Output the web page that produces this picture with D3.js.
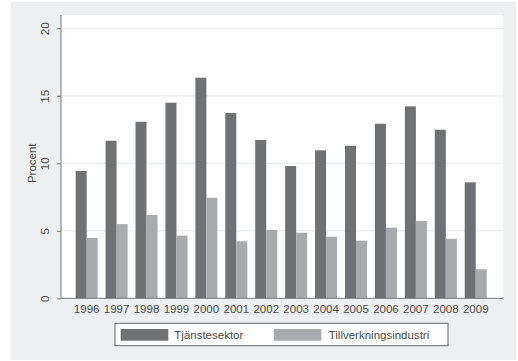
<!DOCTYPE html>
<html>
<head>
<meta charset="utf-8">
<script src="https://cdn.jsdelivr.net/npm/d3@7"></script>
<style>
html,body{margin:0;padding:0;background:#fff;}
svg{display:block;font-family:"Liberation Sans",Arial,sans-serif;}
</style>
</head>
<body>
<script>
const years = ["1996","1997","1998","1999","2000","2001","2002","2003","2004","2005","2006","2007","2008","2009"];
const seriesNames = ["Tjänstesektor","Tillverkningsindustri"];
const tjanst = [9.43,11.67,13.08,14.49,16.34,13.73,11.73,9.8,10.96,11.3,12.93,14.22,12.49,8.59];
const tillv = [4.47,5.5,6.17,4.64,7.45,4.22,5.06,4.86,4.56,4.27,5.23,5.73,4.41,2.15];
const yTicks = [0,5,10,15,20];
const colors = ["#707175","#a9aaae"];

const W = 518, H = 361;
const svg = d3.select("body").append("svg").attr("width", W).attr("height", H);

// graph region
svg.append("rect").attr("x",11).attr("y",2).attr("width",505).attr("height",358).attr("fill","#edeff1");
const plot = {l:61, r:503, t:15, b:298.3};
svg.append("rect").attr("x",plot.l).attr("y",plot.t).attr("width",plot.r-plot.l).attr("height",plot.b-plot.t).attr("fill","#fff");

const y = d3.scaleLinear().domain([0,20]).range([298.3,28.3]);
const x = d3.scaleBand().domain(years).range([71.7,490.7]).paddingInner(0.264).paddingOuter(0.132);
const xs = d3.scaleBand().domain([0,1]).range([0,x.bandwidth()]);

// gridlines
svg.append("g").selectAll("line").data(yTicks.filter(d=>d>0)).join("line")
  .attr("x1",plot.l).attr("x2",plot.r).attr("y1",d=>y(d)).attr("y2",d=>y(d))
  .attr("stroke","#eceef0").attr("stroke-width",1.2);

// bars
const groups = svg.append("g").selectAll("g").data(years).join("g")
  .attr("transform",d=>`translate(${x(d)},0)`);
groups.selectAll("rect").data((d,i)=>[tjanst[i],tillv[i]]).join("rect")
  .attr("x",(d,j)=>xs(j)).attr("width",xs.bandwidth())
  .attr("y",d=>y(d)).attr("height",d=>y(0)-y(d))
  .attr("fill",(d,j)=>colors[j]);

// y axis
const yAxis = svg.append("g").attr("transform",`translate(${plot.l},0)`)
  .call(d3.axisLeft(y).tickValues(yTicks).tickSize(4).tickPadding(4));
yAxis.select(".domain").attr("d",`M0,${plot.t}V${plot.b}`).attr("stroke","#777");
yAxis.selectAll(".tick line").attr("stroke","#777");
yAxis.selectAll(".tick text").attr("fill","#4a4a4a").attr("font-size",11.5)
  .attr("transform","rotate(-90)").attr("x",0).attr("y",-12).attr("dy","0").attr("text-anchor","middle")
  .attr("dominant-baseline","auto");
svg.append("text").attr("transform",`translate(36,${(28.3+298.3)/2}) rotate(-90)`)
  .attr("text-anchor","middle").attr("font-size",11.5).attr("fill","#4a4a4a").text("Procent");

// x axis
const xAxis = svg.append("g").attr("transform",`translate(0,${plot.b})`)
  .call(d3.axisBottom(x).tickSize(0).tickPadding(7));
xAxis.select(".domain").attr("d",`M${plot.l},0H${plot.r}`).attr("stroke","#777");
xAxis.selectAll(".tick text").attr("fill","#4a4a4a").attr("font-size",11.5);

// legend
const leg = svg.append("g");
leg.append("rect").attr("x",115).attr("y",323.3).attr("width",333).attr("height",22.4)
  .attr("fill","#fff").attr("stroke","#666").attr("stroke-width",1);
const legItems = [{sx:120.7, tx:174.3},{sx:273.7, tx:328.7}];
legItems.forEach((it,i)=>{
  leg.append("rect").attr("x",it.sx).attr("y",329).attr("width",47.6).attr("height",11.7).attr("fill",colors[i]);
  leg.append("text").attr("x",it.tx).attr("y",338.8).attr("font-size",11.5).attr("fill","#4a4a4a").text(seriesNames[i]);
});
</script>
</body>
</html>
